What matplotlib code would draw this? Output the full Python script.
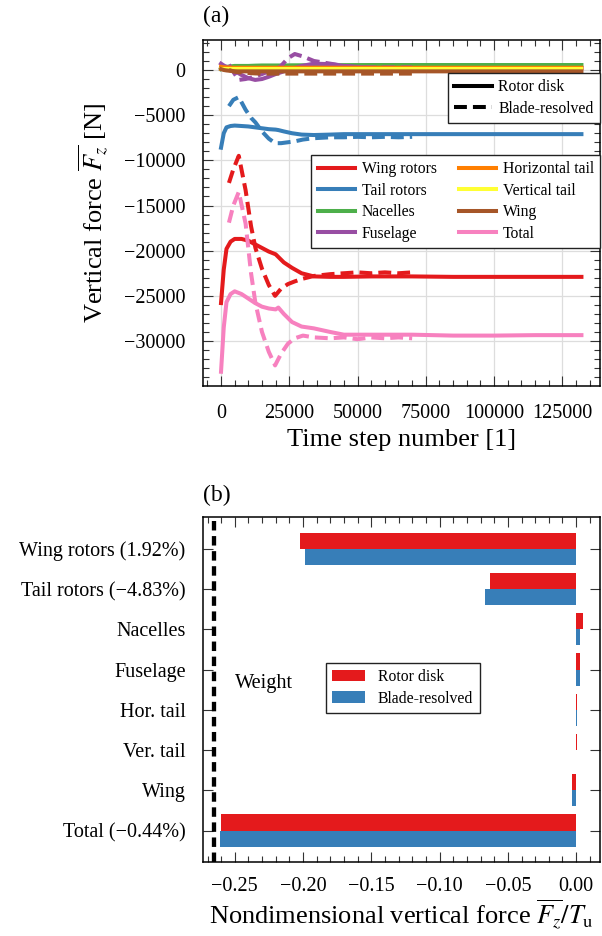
import numpy as np
import matplotlib.pyplot as plt
from matplotlib.lines import Line2D
from matplotlib.ticker import MultipleLocator, FuncFormatter

plt.rcParams['font.family'] = ['Liberation Serif', 'DejaVu Serif']
plt.rcParams['mathtext.fontset'] = 'stix'

# ---- panel (a): time histories, rotor disk (solid) ----
t_rd = [0, 1000, 2000, 3500, 5000, 7500, 10000, 12500, 15000, 17500, 20000, 21000,
        23000, 26000, 29500, 34000, 40000, 45000, 55000, 70000, 85000, 100000, 115000, 132000]
wing_rotors_rd = [-25800, -22100, -19800, -19000, -18700, -18700, -18900, -19300, -19700, -20100,
                  -20400, -20700, -21300, -21900, -22500, -22850, -22900, -22900, -22850, -22850,
                  -22900, -22900, -22900, -22900]
tail_rotors_rd = [-8600, -7000, -6350, -6200, -6150, -6200, -6250, -6350, -6450, -6550, -6600, -6650,
                  -6800, -7000, -7150, -7200, -7150, -7100, -7100, -7100, -7100, -7100, -7100, -7100]
nacelles_rd = [100, 250, 350, 400, 450, 450, 450, 480, 500, 500, 500, 500,
               500, 520, 520, 530, 530, 540, 550, 550, 550, 550, 550, 550]
fuselage_rd = [700, 500, 350, 100, -100, -550, -900, -1100, -1000, -750, -450, -350,
               -150, 150, 450, 700, 650, 450, 250, 200, 200, 200, 200, 200]
hor_tail_rd = [350, 300, 280, 260, 250, 250, 250, 250, 250, 250, 250, 250,
               250, 250, 250, 250, 250, 250, 250, 250, 250, 250, 250, 250]
ver_tail_rd = [80, 80, 80, 80, 80, 80, 80, 80, 80, 80, 80, 80,
               80, 80, 80, 80, 80, 80, 80, 80, 80, 80, 80, 80]
wing_rd = [100, 0, -50, -100, -150, -150, -150, -150, -150, -150, -150, -150,
           -150, -150, -150, -150, -150, -150, -150, -150, -150, -150, -150, -150]
total_rd = [-33400, -28500, -25700, -24800, -24500, -24800, -25300, -25800, -26200, -26400,
            -26500, -26300, -27000, -27900, -28400, -28600, -29000, -29300, -29300, -29300,
            -29400, -29400, -29350, -29350]

# ---- panel (a): time histories, blade-resolved (dashed) ----
t_br = [2900, 4500, 6500, 9000, 11000, 12600, 15000, 17500, 19800, 22000, 24500, 27000,
        30000, 34000, 40000, 45000, 50000, 55000, 60000, 65000, 70000]
wing_rotors_br = [-12500, -11000, -9500, -13300, -17300, -19700, -22000, -23800, -25000, -24200,
                  -23700, -23400, -23100, -22800, -22600, -22500, -22400, -22500, -22400, -22500, -22400]
tail_rotors_br = [-4000, -3300, -3000, -4400, -5300, -5800, -6800, -7600, -8100, -8100,
                  -8000, -7900, -7700, -7550, -7450, -7450, -7400, -7450, -7400, -7450, -7400]
nacelles_br = [100, 200, 300, 350, 380, 400, 400, 400, 400, 400,
               400, 400, 400, 400, 400, 400, 400, 400, 400, 400, 400]
fuselage_br = [600, -200, -1100, -1000, -850, -700, -450, -150, 50, 450,
               1300, 1770, 1500, 1000, 700, 450, 300, 300, 300, 300, 300]
hor_tail_br = [250, 200, 150, 120, 100, 100, 100, 100, 100, 100,
               100, 100, 100, 100, 100, 100, 100, 100, 100, 100, 100]
ver_tail_br = [50, 20, 0, 0, 0, 0, 0, 0, 0, 0,
               0, 0, 0, 0, 0, 0, 0, 0, 0, 0, 0]
wing_br = [0, -150, -250, -300, -350, -380, -400, -400, -400, -400,
           -400, -400, -400, -400, -400, -400, -400, -400, -400, -400, -400]
total_br = [-16900, -15000, -13500, -17000, -22500, -25800, -29000, -31200, -32700, -31400,
            -30300, -29700, -29400, -29600, -29700, -29600, -29800, -29600, -29700, -29600, -29700]

labels_a = ['Wing rotors', 'Tail rotors', 'Nacelles', 'Fuselage',
            'Horizontal tail', 'Vertical tail', 'Wing', 'Total']
colors = ['#e41a1c', '#377eb8', '#4daf4a', '#984ea3',
          '#ff7f00', '#ffff33', '#a65628', '#f781bf']

# ---- panel (b): nondimensional vertical force ----
categories = ['Wing rotors (1.92%)', 'Tail rotors (\u22124.83%)', 'Nacelles', 'Fuselage',
              'Hor. tail', 'Ver. tail', 'Wing', 'Total (\u22120.44%)']
rotor_disk = [-0.2025, -0.0633, 0.0051, 0.0030, 0.0010, 0.0003, -0.0027, -0.2598]
blade_resolved = [-0.1987, -0.0664, 0.0030, 0.0025, 0.0003, -0.0002, -0.0027, -0.2609]
weight = -0.2653

fig = plt.figure(figsize=(6.02, 9.36), dpi=100)
ax1 = fig.add_axes([203 / 602, 1 - 386 / 936, 397 / 602, 346 / 936])
ax2 = fig.add_axes([203 / 602, 1 - 862 / 936, 397 / 602, 345 / 936])

lw = 2.9
dash = (0, (3.2, 1.5))
rd_series = [wing_rotors_rd, tail_rotors_rd, nacelles_rd, fuselage_rd,
             hor_tail_rd, ver_tail_rd, wing_rd, total_rd]
br_series = [wing_rotors_br, tail_rotors_br, nacelles_br, fuselage_br,
             hor_tail_br, ver_tail_br, wing_br, total_br]
for rd, br, c in zip(rd_series, br_series, colors):
    ax1.plot(t_rd, rd, color=c, lw=lw, solid_joinstyle='round')
    ax1.plot(t_br, br, color=c, lw=lw, linestyle=dash)

ax1.set_xlim(-6600, 138800)
ax1.set_ylim(-34980, 3320)
ax1.xaxis.set_major_locator(MultipleLocator(25000))
ax1.xaxis.set_minor_locator(MultipleLocator(5000))
ax1.yaxis.set_major_locator(MultipleLocator(5000))
ax1.yaxis.set_minor_locator(MultipleLocator(1000))
ax1.xaxis.set_major_formatter(FuncFormatter(lambda v, p: f'{v:.0f}'))
ax1.yaxis.set_major_formatter(FuncFormatter(lambda v, p: f'{v:.0f}'.replace('-', '\u2212')))
ax1.grid(True, which='major', color='#dddddd', lw=0.9)
ax1.set_axisbelow(True)
ax1.set_xlabel('Time step number [1]', fontsize=19, labelpad=4)
ax1.set_ylabel(r'Vertical force $\overline{F_z}$ [N]', fontsize=19, labelpad=10)

style_leg = [Line2D([], [], color='black', lw=lw),
             Line2D([], [], color='black', lw=lw, linestyle=dash)]
leg1 = ax1.legend(style_leg, ['Rotor disk', 'Blade-resolved'], loc='upper right',
                  bbox_to_anchor=(1.0, 0.905), borderaxespad=0, fontsize=11.3,
                  handlelength=2.4, handletextpad=0.4, labelspacing=0.35,
                  fancybox=False, framealpha=1, edgecolor='#222222')
leg1.get_frame().set_linewidth(1.0)
ax1.add_artist(leg1)
comp_leg = [Line2D([], [], color=c, lw=lw) for c in colors]
leg2 = ax1.legend(comp_leg, labels_a, loc='upper right', ncol=2,
                  bbox_to_anchor=(1.0, 0.668), borderaxespad=0, fontsize=11.3,
                  handlelength=2.4, handletextpad=0.4, labelspacing=0.35, columnspacing=1.4,
                  fancybox=False, framealpha=1, edgecolor='#222222')
leg2.get_frame().set_linewidth(1.0)

# panel (b)
y = np.arange(len(categories))
h = 0.4
ax2.barh(y - h / 2, rotor_disk, height=h, color='#e41a1c', label='Rotor disk')
ax2.barh(y + h / 2, blade_resolved, height=h, color='#377eb8', label='Blade-resolved')
ax2.axvline(weight, color='black', lw=3.1, linestyle=(0, (2.2, 1.3)))
ax2.text(0.081, 0.516, 'Weight', transform=ax2.transAxes, fontsize=14.7,
         ha='left', va='center')
ax2.set_yticks(y)
ax2.set_yticklabels(categories)
ax2.set_ylim(len(categories) - 1 + 0.78, -0.787)
ax2.set_xlim(-0.2733, 0.0175)
ax2.xaxis.set_major_locator(MultipleLocator(0.05))
ax2.xaxis.set_minor_locator(MultipleLocator(0.01))
ax2.xaxis.set_major_formatter(FuncFormatter(lambda v, p: f'{v:.2f}'.replace('-', '\u2212')))
ax2.set_xlabel(r'Nondimensional vertical force $\overline{F_z}/T_\mathrm{u}$', fontsize=19, labelpad=1)
leg3 = ax2.legend(loc='upper left', bbox_to_anchor=(0.310, 0.577), borderaxespad=0,
                  fontsize=11.3, handlelength=2.1, handleheight=0.75, handletextpad=0.8,
                  labelspacing=0.35, fancybox=False, framealpha=1, edgecolor='#222222')
leg3.get_frame().set_linewidth(1.0)

for ax in (ax1, ax2):
    ax.tick_params(which='both', direction='in', top=True, right=True,
                   labelsize=14.5, width=0.8, color='#333333')
    ax.tick_params(which='major', length=7)
    ax.tick_params(which='minor', length=4.3)
    ax.tick_params(axis='y', pad=12.5)
    for s in ax.spines.values():
        s.set_linewidth(1.1)
ax1.tick_params(axis='x', pad=13)
ax2.tick_params(axis='x', pad=11)

fig.text(203 / 602, 1 - 16 / 936, '(a)', fontsize=17, va='center', ha='left')
fig.text(203 / 602, 1 - 495 / 936, '(b)', fontsize=17, va='center', ha='left')

fig.savefig('out.png', dpi=100)
